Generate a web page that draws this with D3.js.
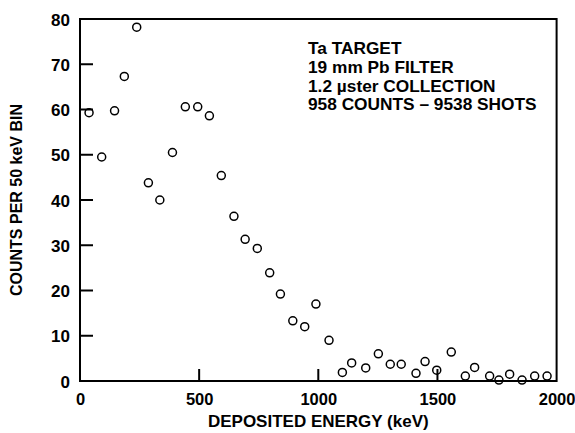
<!DOCTYPE html>
<html>
<head>
<meta charset="utf-8">
<script src="https://cdn.jsdelivr.net/npm/d3@7"></script>
<style>
  body { margin: 0; background: #fff; }
  svg text { font-family: "Liberation Sans", Arial, Helvetica, sans-serif; font-weight: bold; fill: #000; }
</style>
</head>
<body>
<svg id="chart" width="575" height="433"></svg>
<script>
// Deposited energy (keV), bin centres
const energy = [38, 91, 145, 186, 238, 287, 335, 388, 442, 494, 543, 593, 646, 693, 744, 796, 841, 893, 943, 990,
  1045, 1101, 1140, 1199, 1252, 1302, 1348, 1410, 1448, 1497, 1558, 1617, 1656, 1719, 1758, 1803, 1855, 1908, 1960];
// Counts per 50 keV bin
const counts = [59.3, 49.5, 59.7, 67.3, 78.2, 43.8, 40.0, 50.5, 60.6, 60.6, 58.6, 45.4, 36.4, 31.3, 29.3, 23.9, 19.2, 13.3, 12.0, 17.0,
  9.0, 1.9, 4.0, 2.9, 6.0, 3.7, 3.7, 1.7, 4.3, 2.4, 6.4, 1.1, 3.0, 1.1, 0.2, 1.5, 0.2, 1.1, 1.1];

const xTicks = [0, 500, 1000, 1500, 2000];
const yTicks = [0, 10, 20, 30, 40, 50, 60, 70, 80];
const notes = ["Ta TARGET", "19 mm Pb FILTER", "1.2 \u00b5ster COLLECTION", "958 COUNTS \u2013 9538 SHOTS"];

const svg = d3.select('#chart');
const width = 575, height = 433;
const margin = { top: 19, right: 18.4, bottom: 52, left: 80 };
const w = width - margin.left - margin.right;
const h = height - margin.top - margin.bottom;

const x = d3.scaleLinear().domain([0, 2000]).range([0, w]);
const y = d3.scaleLinear().domain([0, 80]).range([h, 0]);

const g = svg.append('g').attr('transform', `translate(${margin.left},${margin.top})`);

// frame
g.append('rect')
  .attr('x', 0).attr('y', 0).attr('width', w).attr('height', h)
  .attr('fill', 'none').attr('stroke', '#000').attr('stroke-width', 2);

// y axis - inward ticks, labels on the left
const yAxis = g.append('g')
  .call(d3.axisLeft(y).tickValues(yTicks).tickFormat(d3.format('d')).tickSize(0).tickPadding(10));
yAxis.select('.domain').remove();
yAxis.selectAll('text').style('font-size', '17px').attr('dy', '0.36em');
g.selectAll('.ytick')
  .data(yTicks.filter(d => d > 0 && d < 80))
  .enter().append('line')
  .attr('x1', 0).attr('x2', 13)
  .attr('y1', d => y(d)).attr('y2', d => y(d))
  .attr('stroke', '#000').attr('stroke-width', 2);

// x axis
const xAxis = g.append('g')
  .attr('transform', `translate(0,${h})`)
  .call(d3.axisBottom(x).tickValues(xTicks).tickFormat(d3.format('d')).tickSize(0).tickPadding(12));
xAxis.select('.domain').remove();
xAxis.selectAll('text').style('font-size', '16.5px');
g.selectAll('.xtick')
  .data(xTicks.filter(d => d > 0 && d < 2000))
  .enter().append('line')
  .attr('x1', d => x(d)).attr('x2', d => x(d))
  .attr('y1', h).attr('y2', h - 12)
  .attr('stroke', '#000').attr('stroke-width', 2);

// axis titles
svg.append('text')
  .attr('x', margin.left + w / 2).attr('y', 427)
  .attr('text-anchor', 'middle')
  .style('font-size', '17px')
  .text('DEPOSITED ENERGY (keV)');

svg.append('text')
  .attr('transform', `translate(22,${margin.top + h / 2}) rotate(-90)`)
  .attr('text-anchor', 'middle')
  .style('font-size', '16px')
  .text('COUNTS PER 50 keV BIN');

// data points
g.selectAll('.pt')
  .data(energy.map((e, i) => ({ e: e, c: counts[i] })))
  .enter().append('circle')
  .attr('cx', d => x(d.e))
  .attr('cy', d => y(d.c))
  .attr('r', 4)
  .attr('fill', 'none')
  .attr('stroke', '#000')
  .attr('stroke-width', 1.5);

// annotation
svg.append('g')
  .selectAll('text')
  .data(notes)
  .enter().append('text')
  .attr('x', 308)
  .attr('y', (d, i) => 54 + i * 18.8)
  .style('font-size', '17.3px')
  .text(d => d);
</script>
</body>
</html>
